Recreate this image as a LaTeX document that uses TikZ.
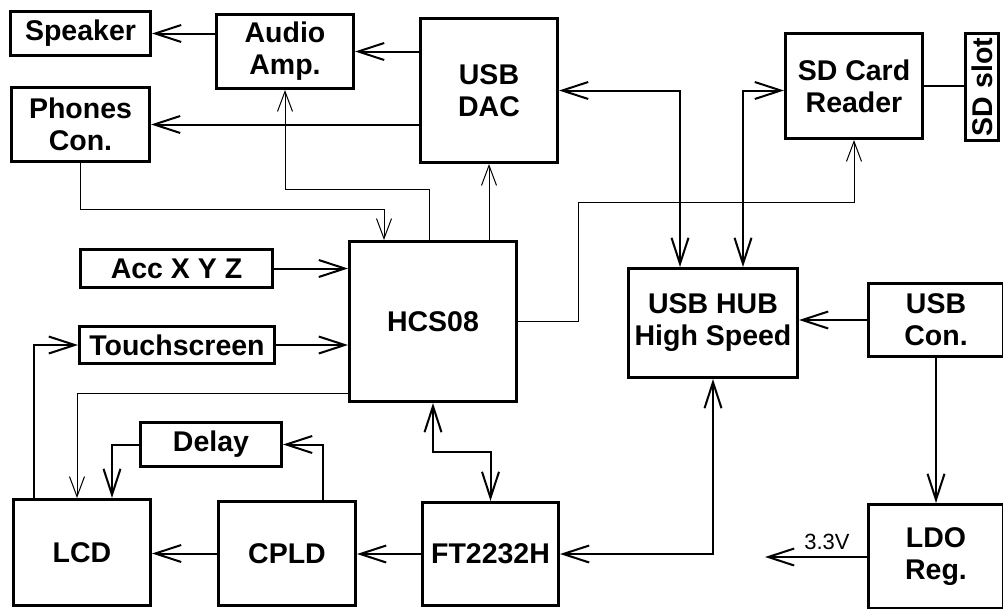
\documentclass[tikz,border=0pt]{standalone}
\usepackage{fontspec}
\setmainfont{Liberation Sans}
\usepackage{graphicx}
\usetikzlibrary{arrows.meta}
\begin{document}
\begin{tikzpicture}[x=1pt,y=-1pt,
  blk/.style={draw, line width=3pt, inner sep=0pt, align=center,
    font=\fontsize{28.5}{32}\selectfont\bfseries},
  conn/.style={line width=2pt, -{Straight Barb[length=26pt,width=17pt]}},
  thinconn/.style={line width=1pt, -{Straight Barb[length=20pt,width=15pt]}},
  biconn/.style={line width=2pt, {Straight Barb[length=26pt,width=17pt]}-{Straight Barb[length=26pt,width=17pt]}},
  plainconn/.style={line width=2pt}
]
\useasboundingbox (0,0) rectangle (1003,608);
\clip (0,0) rectangle (1003,608);
\fill[white] (0,0) rectangle (1003,608);

% blocks
\node[blk, minimum width=140pt, minimum height=44pt] (speaker) at (80.5,33.5) {Speaker};
\node[blk, minimum width=137pt, minimum height=74pt] (amp) at (285,51.5) {Audio\\Amp.};
\node[blk, minimum width=137pt, minimum height=144pt] (dac) at (489,90.5) {USB\\DAC};
\node[blk, minimum width=138pt, minimum height=74pt] (phones) at (80.5,124.5) {Phones\\Con.};
\node[blk, minimum width=137pt, minimum height=105pt] (sdr) at (854,86) {SD Card\\Reader};
\node[blk, minimum width=33pt, minimum height=107pt] (slot) at (982,87) {\rotatebox{90}{SD slot}};
\node[blk, minimum width=167pt, minimum height=160pt] (hcs) at (433,321.5) {HCS08};
\node[blk, minimum width=192pt, minimum height=38pt] (acc) at (176.5,268.5) {Acc X Y Z};
\node[blk, minimum width=195pt, minimum height=37pt] (touch) at (177,345) {Touchscreen};
\node[blk, minimum width=169pt, minimum height=109pt] (hub) at (713,323) {USB HUB\\High Speed};
\node[blk, minimum width=135pt, minimum height=73pt] (usbcon) at (936,320) {USB\\Con.};
\node[blk, minimum width=135pt, minimum height=104pt] (ldo) at (936,556.5) {LDO\\Reg.};
\node[blk, minimum width=141pt, minimum height=44pt] (delay) at (211,444.5) {Delay};
\node[blk, minimum width=137pt, minimum height=106pt] (lcd) at (82,552.5) {LCD};
\node[blk, minimum width=137pt, minimum height=104pt] (cpld) at (287,553.5) {CPLD};
\node[blk, minimum width=136pt, minimum height=103pt] (ft) at (490.5,554) {FT2232H};

% coordinates for bends and free ends
\coordinate (p1) at (384,209);
\coordinate (p2) at (429,189);
\coordinate (s1) at (578,202);
\coordinate (m1) at (461,452);
\coordinate (v33) at (765,557);

% audio connections
\draw[conn] (amp.west |- speaker.east) -- (speaker.east);
\draw[conn] (dac.west |- amp.east) -- (amp.east);
\draw[conn] (dac.west |- phones.east) -- (phones.east);
\draw[thinconn] (phones.south) |- (p1) -- (p1 |- hcs.north);
\draw[thinconn] (p2 |- hcs.north) -- (p2) -| (amp.south);
\draw[thinconn] (dac.south |- hcs.north) -- (dac.south);

% USB
\draw[biconn] (dac.east) -| ([xshift=-33pt]hub.north);
\draw[biconn] (sdr.west |- dac.east) -| ([xshift=30pt]hub.north);
\draw[plainconn] (sdr.east) -- (sdr.east -| slot.west);
\draw[thinconn] (hcs.east) -| (s1) -| (sdr.south);
\draw[conn] (usbcon.west) -- (usbcon.west -| hub.east);
\draw[conn] (usbcon.south) -- (ldo.north);
\draw[conn] (ldo.west |- v33) -- (v33);
\node[font=\fontsize{22}{26}\selectfont, inner sep=0pt] (v33lbl) at (827,542) {3.3V};

% left side
\draw[conn] (acc.east) -- (acc.east -| hcs.west);
\draw[conn] (touch.east) -- (touch.east -| hcs.west);
\draw[conn] ([xshift=22pt]lcd.north west) |- (touch.west);
\draw[thinconn] ([yshift=-71.5pt]hcs.west) -| ([xshift=65pt]lcd.north west);
\draw[conn] (delay.west) -| ([xshift=100pt]lcd.north west);
\draw[conn] ([xshift=36pt]cpld.north) |- (delay.east);
\draw[conn] (cpld.west) -- (cpld.west -| lcd.east);
\draw[conn] (ft.west) -- (ft.west -| cpld.east);
\draw[biconn] (hcs.south) |- (m1) -| (ft.north);
\draw[biconn] (hub.south) |- (ft.east);
\end{tikzpicture}
\end{document}
